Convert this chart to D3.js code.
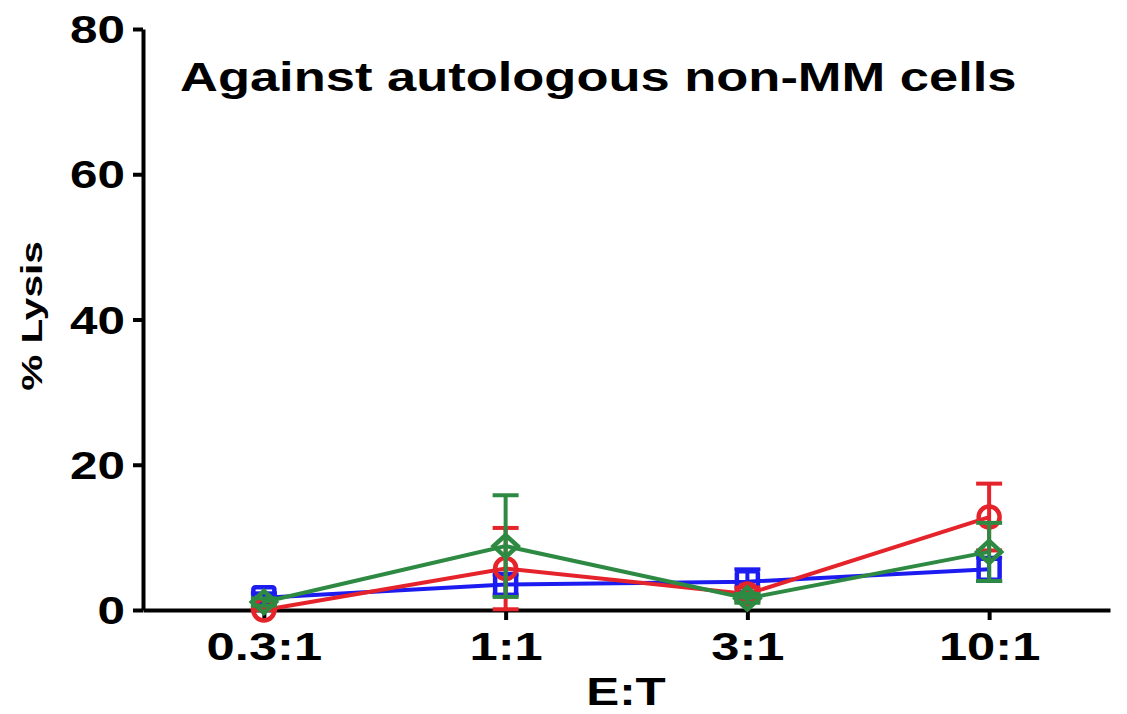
<!DOCTYPE html>
<html>
<head>
<meta charset="utf-8">
<script src="https://cdn.jsdelivr.net/npm/d3@7"></script>
<style>
  html, body { margin: 0; padding: 0; background: #fff; }
  text { font-family: 'Liberation Sans', Arial, sans-serif; font-weight: bold; fill: #000; }
</style>
</head>
<body>
<svg id="chart" width="1127" height="714"></svg>
<script>
// E:T ratios on the x axis
const categories = ['0.3:1', '1:1', '3:1', '10:1']
const yTicks = [0, 20, 40, 60, 80]

// mean % lysis and SEM
const redValues = [0, 5.7, 2.2, 12.8]
const redErrors = [0.3, 5.6, 0.9, 4.6]
const blueValues = [1.7, 3.5, 3.9, 5.6]
const blueErrors = [0.6, 1.4, 1.7, 1.6]
const greenValues = [1.1, 8.8, 1.6, 8.0]
const greenErrors = [0.5, 7.0, 0.6, 4.0]

// text in the source is stretched sideways
const STRETCH = 1.3

const series = [
  { key: 'blue', color: '#1c1cf0', symbol: 'square', values: blueValues, errors: blueErrors },
  { key: 'red', color: '#e5232a', symbol: 'circle', values: redValues, errors: redErrors },
  { key: 'green', color: '#2e8a42', symbol: 'diamond', values: greenValues, errors: greenErrors }
]

const svg = d3.select('#chart')

const x = d3.scalePoint()
  .domain(categories)
  .range([143, 1110])
  .padding(0.5)

const y = d3.scaleLinear()
  .domain([0, 80])
  .range([610, 29])

// y axis
svg.append('g')
  .attr('transform', 'translate(143,0)')
  .call(d3.axisLeft(y).tickValues(yTicks).tickSize(10).tickSizeOuter(0))
  .call((g) => {
    g.select('.domain').attr('stroke', '#000').attr('stroke-width', 4)
    g.selectAll('.tick line').attr('stroke', '#000').attr('stroke-width', 4)
    g.selectAll('.tick text')
      .attr('x', -18 / STRETCH)
      .attr('dy', '0.36em')
      .attr('transform', `scale(${STRETCH},1)`)
      .style('font-size', '38px')
      .style('font-family', null)
  })

// x axis
svg.append('g')
  .attr('transform', 'translate(0,610)')
  .call(d3.axisBottom(x).tickSize(10).tickSizeOuter(0).tickPadding(12))
  .call((g) => {
    g.select('.domain').attr('stroke', '#000').attr('stroke-width', 4)
    g.selectAll('.tick line').attr('stroke', '#000').attr('stroke-width', 4)
    g.selectAll('.tick text')
      .attr('transform', `scale(${STRETCH},1)`)
      .attr('x', 0)
      .style('font-size', '39px')
      .style('font-family', null)
  })

// titles
svg.append('text')
  .attr('transform', `translate(180,91) scale(${STRETCH - 0.02},1)`)
  .style('font-size', '41px')
  .text('Against autologous non-MM cells')

svg.append('text')
  .attr('transform', `translate(626,705) scale(${STRETCH},1)`)
  .attr('text-anchor', 'middle')
  .style('font-size', '38px')
  .text('E:T')

svg.append('text')
  .attr('transform', 'translate(42,316) rotate(-90) scale(1.4,1)')
  .attr('text-anchor', 'middle')
  .style('font-size', '29px')
  .text('% Lysis')

const line = d3.line()
  .x((d) => x(d.cat))
  .y((d) => y(d.v))

const CAP = 13

const drawSeries = (s) => {
  const data = categories.map((cat, i) => ({ cat, v: s.values[i], e: s.errors[i] }))
  const g = svg.append('g').attr('class', 'series-' + s.key)

  g.append('path')
    .datum(data)
    .attr('d', line)
    .attr('fill', 'none')
    .attr('stroke', s.color)
    .attr('stroke-width', 4)

  // error bars
  const eb = g.selectAll('.err')
    .data(data)
    .join('g')
    .attr('class', 'err')
    .attr('stroke', s.color)
    .attr('stroke-width', 4)

  eb.append('line')
    .attr('x1', (d) => x(d.cat))
    .attr('x2', (d) => x(d.cat))
    .attr('y1', (d) => y(Math.max(0, d.v - d.e)))
    .attr('y2', (d) => y(d.v + d.e))
  eb.append('line')
    .attr('x1', (d) => x(d.cat) - CAP)
    .attr('x2', (d) => x(d.cat) + CAP)
    .attr('y1', (d) => y(d.v + d.e))
    .attr('y2', (d) => y(d.v + d.e))
  eb.append('line')
    .attr('x1', (d) => x(d.cat) - CAP)
    .attr('x2', (d) => x(d.cat) + CAP)
    .attr('y1', (d) => y(Math.max(0, d.v - d.e)))
    .attr('y2', (d) => y(Math.max(0, d.v - d.e)))

  // hollow markers
  const m = g.selectAll('.marker')
    .data(data)
    .join('g')
    .attr('class', 'marker')
    .attr('transform', (d) => `translate(${x(d.cat)},${y(d.v)})`)
    .attr('fill', 'none')
    .attr('stroke', s.color)
    .attr('stroke-width', 4.5)

  if (s.symbol === 'circle') {
    m.append('circle').attr('r', 10.5)
  } else if (s.symbol === 'square') {
    m.append('rect').attr('x', -10.5).attr('y', -10.5).attr('width', 21).attr('height', 21).attr('rx', 2)
  } else {
    m.append('path').attr('d', 'M0,-11L12,0L0,11L-12,0Z')
  }
}

series.forEach(drawSeries)
</script>
</body>
</html>
